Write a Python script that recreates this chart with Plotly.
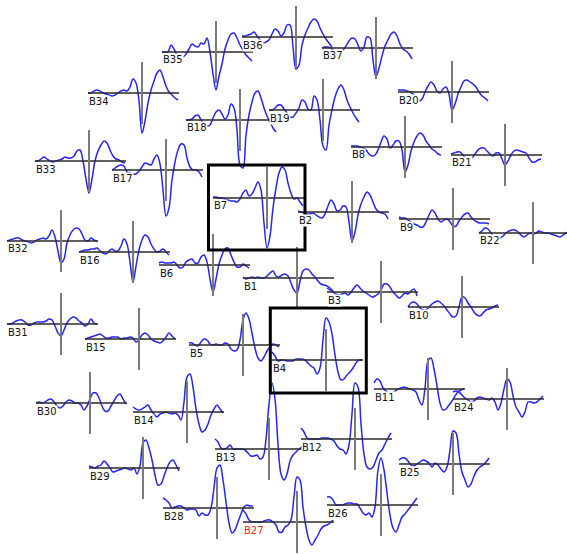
import plotly.graph_objects as go

# ---- time axis (ms) shared by every channel ----
T = [-270, -255, -240, -225, -210, -195, -180, -165, -150, -135, -120, -105, -90, -75, -60,
     -45, -30, -15, 0, 15, 30, 45, 60, 75, 90, 105, 120, 135, 150, 165, 180]

# ---- channel waveforms (amplitude, arbitrary units) ----
B35 = [0, 0, 0, 7, 3, -3, -4, -5, -2, 3, 8, 6, 5, 9, 8, 14, 0, -22, -38, -24, -12, 3, 12, 18, 19, 14, 7, 2, -3, -6, -9]
B36 = [1, 1, 2, 3, 5, 1, -3, -6, -5, -3, 3, 8, 6, 1, 4, 12, 12, -10, -32, -28, -8, 2, 9, 15, 18, 16, 9, 3, -2, -6, -10]
B37 = [0, 1, 1, 0, -3, -6, -6, -2, 2, 7, 10, 9, 3, -3, 1, 11, 10, -12, -29, -20, -8, 2, 8, 14, 16, 12, 4, -1, -3, -6, -11]
B34 = [0, 0, 2, 3, 2, 0, -1, -2, -3, -2, 0, 2, 3, 2, 6, 14, 10, -8, -40, -28, -10, 3, 12, 20, 23, 16, 7, 1, -2, -5, -7]
B33 = [0, 0, 2, 4, 2, 0, -1, 0, 1, 2, 4, 3, 3, 5, 10, 11, 0, -18, -32, -18, 0, 10, 16, 20, 18, 11, 5, 2, 1, -1, -2]
B17 = [0, 2, 4, 5, 4, -2, -3, -4, -4, -1, 3, 7, 6, 5, 11, 15, 6, -20, -46, -38, -10, 8, 20, 26, 25, 12, 3, 0, 0, -2, -7]
B18 = [0, 0, 1, 4, 5, 0, -4, -6, -5, 2, 8, 10, 6, 1, 5, 16, 12, -10, -45, -48, -15, 5, 18, 27, 29, 22, 12, 4, -2, -8, -12]
B19 = [0, 0, 2, 5, 5, 1, -3, -7, -7, -3, 2, 10, 8, 1, 0, 14, 10, -10, -36, -40, -15, 0, 13, 21, 25, 20, 10, 3, -3, -8, -12]
B20 = [2, 2, 2, 1, 0, -2, -7, -9, -7, 0, 6, 10, 7, 1, -1, 3, 5, -2, -18, -12, -2, 5, 11, 12, 10, 8, 5, 0, -4, -6, -9]
B8 = [1, 1, 1, 0, -1, -3, -7, -9, -8, -3, 5, 11, 8, -1, 2, 6, 6, -3, -25, -18, -4, 5, 11, 14, 12, 6, 2, -2, -4, -7, -8]
B21 = [1, 2, 3, 3, 0, -3, -5, -3, 1, 5, 7, 7, 4, 1, -1, 2, 2, -4, -10, -6, 0, 4, 5, 4, 3, 2, -3, -7, -7, -5, -4]
B7 = [1, 1, 0, 0, -1, -2, -3, -3, -4, -1, 5, 8, 2, 4, 10, 16, 8, -25, -50, -38, -10, 10, 25, 31, 28, 15, 5, -1, 0, -4, -8]
B2 = [1, 0, -1, -2, -2, -1, -3, -5, -6, -2, 6, 12, 8, 1, 2, 6, 5, -10, -29, -20, -3, 8, 15, 20, 17, 10, 3, 0, -1, -2, -7]
B9 = [2, 1, 1, -1, -3, -5, -6, -8, -8, -3, 4, 9, 6, 0, -3, -1, 0, -3, -7, -7, -2, 2, 5, 6, 2, -1, -3, -4, -4, -4, -5]
B22 = [0, 2, 5, 4, 0, -4, -6, -5, -3, 0, 2, 3, 3, 1, -2, -4, -2, 0, -1, 0, 2, 1, 0, 0, -1, -2, -3, -4, -2, 0, 1]
B32 = [0, 1, 2, 3, 3, 1, 0, -1, -2, -1, 1, 2, 3, 2, 5, 11, 4, -10, -22, -18, -2, 6, 11, 13, 12, 7, 1, 0, 3, 1, 0]
B16 = [0, 1, 2, 2, 3, 3, 4, 1, -1, -2, 1, 3, 1, 1, 6, 13, 8, -10, -30, -14, 2, 12, 17, 15, 8, 3, 0, 1, 3, 0, -3]
B6 = [2, 3, 2, 2, 2, 3, 0, -3, -2, 3, 5, 6, 2, 2, 8, 10, 3, -14, -27, -14, 1, 10, 16, 17, 10, 3, -2, -2, 1, -1, -3]
B1 = [1, -1, 0, 1, 0, 1, 0, 0, 2, 5, 7, 2, 1, 3, 4, 2, -5, -12, -15, -3, 7, 9, 8, 4, 1, -3, -6, -7, -8, -10, -13]
B3 = [4, 2, 0, -2, -3, -2, -1, -3, 0, 4, 7, 4, 1, -1, -3, -5, -4, -2, 2, 8, 8, 5, 0, -3, -6, -4, -1, -2, 1, 3, -4]
B10 = [0, 4, 5, 3, -1, -3, -3, 0, 3, 5, 6, 4, 1, -3, -7, -10, -9, 0, 10, 9, 4, 0, -5, -8, -9, -6, -3, -2, -1, 1, 2]
B31 = [0, 0, 1, 3, 4, 4, 2, -1, -1, 1, 2, 2, 2, 3, 5, 4, -2, -9, -12, -6, 1, 5, 7, 6, 3, 1, -2, 0, 5, 1, 0]
B15 = [0, 1, 2, 3, 4, 5, 3, 1, 1, 2, 2, 2, 0, 1, 1, 2, 1, -3, -1, 4, 6, 4, 0, -2, -3, -4, -2, 2, 6, 3, 0]
B5 = [2, 2, 0, -1, 3, 6, 5, 1, 0, 1, 0, 0, 2, 1, -4, -6, -5, 5, 25, 32, 26, 12, -3, -13, -16, -12, -6, -2, 1, 0, -2]
B4 = [8, 4, -1, 0, 0, -1, -1, -1, 1, 1, 1, 0, -3, -6, -8, -14, -8, 20, 42, 38, 26, 5, -12, -20, -19, -15, -12, -8, -3, 0, 0]
B30 = [0, 1, 0, 1, 3, 4, 1, -3, -5, -3, 1, 3, 2, 0, 0, -2, -7, -3, 4, 10, 10, 5, -3, -8, -8, -3, 2, 7, 9, 4, -1]
B14 = [5, 3, 2, 3, 5, 7, 2, -2, -5, -2, -1, 0, -1, -2, -1, -3, -8, 10, 35, 38, 25, 3, -12, -20, -18, -12, -3, 3, 7, 3, -1]
B29 = [2, 1, 0, 2, 3, 7, 4, 0, -4, -3, -2, -1, 0, -1, -2, 0, -6, 2, 25, 28, 20, 8, -7, -17, -16, -8, 0, 6, 8, 3, -3]
B13 = [10, 7, 1, 0, 1, 4, 0, 0, 0, 0, -1, -4, -7, -7, -6, -10, -8, 10, 45, 66, 50, 5, -25, -31, -25, -12, -6, -3, 0, 2, 3]
B12 = [11, 7, 1, 0, 0, 0, 0, 1, 1, 1, 0, -2, -7, -10, -11, -15, -6, 25, 56, 52, 15, -15, -28, -30, -28, -21, -14, -11, -5, 1, 6]
B11 = [6, 10, 8, 1, -2, -4, -4, -2, 0, 1, 2, 1, 0, -1, -3, -11, -16, 1, 28, 31, 20, 3, -14, -21, -20, -16, -12, -7, -3, -1, 0]
B24 = [7, 8, 7, 4, 1, -1, -3, -2, 1, 2, 1, 0, -1, 1, -3, -11, -4, 10, 20, 17, 3, -8, -13, -18, -13, -3, -3, -4, -3, 0, 3]
B25 = [4, 6, 6, 3, -1, -2, 0, 2, 4, 3, 1, -3, 1, -1, -5, -8, -3, 14, 33, 31, 10, -8, -16, -23, -20, -12, -6, -3, -1, 2, 6]
B28 = [10, 8, 5, 0, 1, 2, 2, 0, -2, -1, -1, -2, -8, -5, -7, -7, 0, 20, 40, 43, 28, 6, -15, -25, -22, -14, -6, 1, 3, 2, 2]
B27 = [12, 8, 2, 0, 0, 0, 0, 1, 2, 2, 0, -3, -10, -10, -5, -3, 2, 25, 45, 42, 15, -5, -18, -23, -18, -13, -7, -4, -3, -1, 2]
B26 = [8, 8, 5, 0, 0, 0, 1, 2, 2, 1, 1, -3, -8, -10, -8, -12, -2, 35, 47, 35, 12, -10, -23, -27, -20, -12, -9, -5, -1, 3, 7]

CHANNELS = ["B35", "B36", "B37", "B34", "B20", "B18", "B19", "B33", "B17", "B8", "B21",
            "B7", "B2", "B9", "B22", "B32", "B16", "B6", "B1", "B3", "B10", "B31", "B15",
            "B5", "B4", "B11", "B24", "B30", "B14", "B13", "B12", "B29", "B25", "B28",
            "B27", "B26"]
WAVES = {"B1": B1, "B2": B2, "B3": B3, "B4": B4, "B5": B5, "B6": B6, "B7": B7, "B8": B8,
         "B9": B9, "B10": B10, "B11": B11, "B12": B12, "B13": B13, "B14": B14, "B15": B15,
         "B16": B16, "B17": B17, "B18": B18, "B19": B19, "B20": B20, "B21": B21, "B22": B22,
         "B24": B24, "B25": B25, "B26": B26, "B27": B27, "B28": B28, "B29": B29, "B30": B30,
         "B31": B31, "B32": B32, "B33": B33, "B34": B34, "B35": B35, "B36": B36, "B37": B37}

# ---- layout: baseline left edge / baseline height of each channel panel (pixels) ----
POS = {"B35": (162, 52), "B36": (242, 37), "B37": (322, 48), "B34": (88, 93),
       "B33": (35, 161), "B17": (112, 170), "B18": (186, 120), "B19": (269, 110),
       "B20": (398, 92), "B8": (351, 147), "B21": (451, 155), "B7": (213, 198),
       "B2": (298, 212), "B9": (399, 219), "B22": (479, 233), "B32": (7, 241),
       "B16": (79, 252), "B6": (159, 265), "B1": (243, 278), "B3": (327, 292),
       "B10": (408, 307), "B31": (7, 324), "B15": (85, 339), "B5": (189, 345),
       "B4": (272, 360), "B30": (36, 403), "B14": (133, 412), "B29": (89, 468),
       "B13": (215, 449), "B12": (301, 439), "B11": (374, 389), "B24": (453, 399),
       "B25": (399, 464), "B28": (163, 508), "B27": (243, 522), "B26": (327, 505)}
BOXES = [(208.5, 165, 305, 250), (270.3, 308, 366.3, 393)]

W, H = 567, 554
MS_PER_PX = 5
XR = (-300, 215)
VBAR = 31
WAVE_COLOR = "#2424ff"

fig = go.Figure()
axes = {}
annotations = []
for i, name in enumerate(CHANNELS, start=1):
    amps = WAVES[name]
    x0, y0 = POS[name]
    xr0, xr1 = XR
    left_px = x0 + (xr0 - T[0]) / MS_PER_PX
    right_px = x0 + (xr1 - T[0]) / MS_PER_PX
    if left_px < 0:
        xr0 += -left_px * MS_PER_PX
        left_px = 0
    if right_px > W:
        xr1 -= (right_px - W) * MS_PER_PX
        right_px = W
    yhi = max(max(amps), VBAR) + 5
    ylo = max(-min(amps), VBAR) + 5
    top_px, bot_px = y0 - yhi, y0 + ylo
    if top_px < 0:
        yhi += top_px
        top_px = 0
    if bot_px > H:
        ylo -= bot_px - H
        bot_px = H
    sfx = "" if i == 1 else str(i)
    xref, yref = "x" + sfx, "y" + sfx
    axes["xaxis" + sfx] = dict(domain=[left_px / W, right_px / W], range=[xr0, xr1],
                               visible=False, anchor=yref, fixedrange=True)
    axes["yaxis" + sfx] = dict(domain=[1 - bot_px / H, 1 - top_px / H], range=[-ylo, yhi],
                               visible=False, anchor=xref, fixedrange=True)
    fig.add_trace(go.Scatter(x=T, y=amps, xaxis=xref, yaxis=yref, mode="lines",
                             line=dict(color=WAVE_COLOR, width=1.5, shape="spline", smoothing=1),
                             hoverinfo="skip", showlegend=False))
    fig.add_trace(go.Scatter(x=[T[0], T[-1] + 5], y=[0, 0], xaxis=xref, yaxis=yref, mode="lines",
                             line=dict(color="#2a2a2a", width=1.3),
                             hoverinfo="skip", showlegend=False))
    fig.add_trace(go.Scatter(x=[0, 0], y=[-VBAR, VBAR], xaxis=xref, yaxis=yref, mode="lines",
                             line=dict(color="#7a7a7a", width=2),
                             hoverinfo="skip", showlegend=False))
    annotations.append(dict(x=T[0], y=-8, xref=xref, yref=yref, text=name, showarrow=False,
                            xanchor="left", yanchor="middle", bgcolor="white", borderpad=0,
                            font=dict(family="DejaVu Sans", size=10,
                                      color="#ff2020" if name == "B27" else "#111111")))

shapes = [dict(type="rect", xref="paper", yref="paper", x0=a / W, x1=c / W,
               y0=1 - d / H, y1=1 - b / H, line=dict(color="black", width=3))
          for a, b, c, d in BOXES]

fig.update_layout(width=W, height=H, margin=dict(l=0, r=0, t=0, b=0, pad=0),
                  paper_bgcolor="white", plot_bgcolor="rgba(0,0,0,0)",
                  showlegend=False, annotations=annotations, shapes=shapes, **axes)
fig.write_html("out.html", config={"displayModeBar": False},
               post_script="document.body.style.margin='0px';")
